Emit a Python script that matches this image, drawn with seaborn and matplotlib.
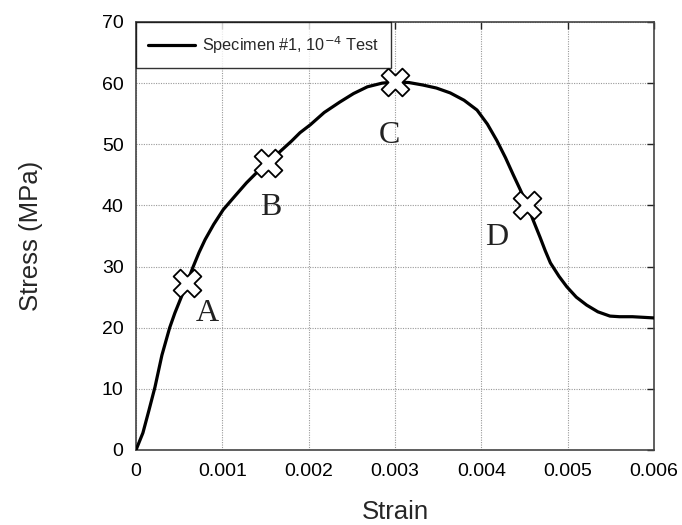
import matplotlib
matplotlib.use("Agg")
import matplotlib.pyplot as plt
import seaborn as sns
import pandas as pd

strain = [0, 0.00008, 0.00015, 0.00022, 0.00030, 0.00039, 0.00045, 0.00051, 0.00059,
          0.00066, 0.00073, 0.00080, 0.00090, 0.00101, 0.00115, 0.00128, 0.00140,
          0.00153, 0.00166, 0.00180, 0.00190, 0.00202, 0.00218, 0.00236, 0.00252,
          0.00268, 0.00285, 0.00300, 0.00316, 0.00332, 0.00348, 0.00364, 0.00380,
          0.00395, 0.00407, 0.00418, 0.00428, 0.00437, 0.00445, 0.00453, 0.00460,
          0.00468, 0.00474, 0.00480, 0.00490, 0.00499, 0.00510, 0.00522, 0.00535,
          0.00549, 0.00560, 0.00575, 0.00600]
stress = [0, 2.8, 6.5, 10.3, 15.5, 20.0, 22.4, 24.5, 27.3,
          29.9, 32.3, 34.4, 36.9, 39.3, 41.6, 43.7, 45.4,
          46.9, 48.7, 50.5, 51.9, 53.2, 55.2, 56.9, 58.3,
          59.4, 60.0, 60.2, 60.1, 59.7, 59.2, 58.4, 57.2,
          55.6, 53.3, 50.6, 47.8, 45.0, 42.6, 40.1, 37.6,
          34.8, 32.6, 30.6, 28.4, 26.7, 25.0, 23.7, 22.6,
          21.9, 21.8, 21.8, 21.6]

point_labels = ["A", "B", "C", "D"]
point_strain = [0.00059, 0.00153, 0.00300, 0.00453]
point_stress = [27.3, 46.9, 60.2, 40.1]
label_strain = [0.00083, 0.00156, 0.00294, 0.00418]
label_stress = [22.4, 39.7, 51.4, 34.8]

x_ticks = [0, 0.001, 0.002, 0.003, 0.004, 0.005, 0.006]
x_tick_labels = ["0", "0.001", "0.002", "0.003", "0.004", "0.005", "0.006"]
y_ticks = [0, 10, 20, 30, 40, 50, 60, 70]

sns.set_style("white")
plt.rcParams["font.family"] = ["Liberation Sans", "DejaVu Sans"]

curve = pd.DataFrame({"Strain": strain, "Stress": stress})
pts = pd.DataFrame({"Strain": point_strain, "Stress": point_stress})

fig = plt.figure(figsize=(6.82, 5.25), dpi=100)
ax = fig.add_axes([136 / 682, 1 - 450 / 525, (654 - 136) / 682, (450 - 22) / 525])

sns.lineplot(data=curve, x="Strain", y="Stress", sort=False, color="black",
             linewidth=2.3, ax=ax, label="Specimen #1, 10$^{-4}$ Test", zorder=3)
sns.scatterplot(data=pts, x="Strain", y="Stress", marker="X", s=400, color="white",
                edgecolor="black", linewidth=1.3, ax=ax, zorder=4, legend=False)

for lab, lx, ly in zip(point_labels, label_strain, label_stress):
    ax.text(lx, ly, lab, ha="center", va="center", fontsize=23,
            family=["Liberation Serif", "DejaVu Serif"], color="#222222", zorder=5)

ax.set_xlim(0, 0.006)
ax.set_ylim(0, 70)
ax.set_xticks(x_ticks)
ax.set_xticklabels(x_tick_labels)
ax.set_yticks(y_ticks)
ax.grid(True, linestyle=(0, (1, 1.2)), color="#999999", linewidth=0.8)
ax.tick_params(direction="in", length=5, width=1, labelsize=14, colors="#222222",
               top=True, right=True, pad=9)
for tl in ax.get_xticklabels() + ax.get_yticklabels():
    tl.set_color("black")
for sp in ax.spines.values():
    sp.set_color("#444444")
    sp.set_linewidth(1.2)

ax.set_xlabel("Strain", fontsize=18.5, labelpad=15)
ax.set_ylabel("Stress (MPa)", fontsize=18.5, labelpad=42)

leg = ax.legend(loc="upper left", bbox_to_anchor=(0, 1), fontsize=11.7, frameon=True,
                fancybox=False, edgecolor="black", borderaxespad=0, handlelength=2.9,
                borderpad=0.75, handletextpad=0.4)
leg.get_frame().set_linewidth(1.0)
leg.set_zorder(6)

fig.savefig("out.png", dpi=100)
